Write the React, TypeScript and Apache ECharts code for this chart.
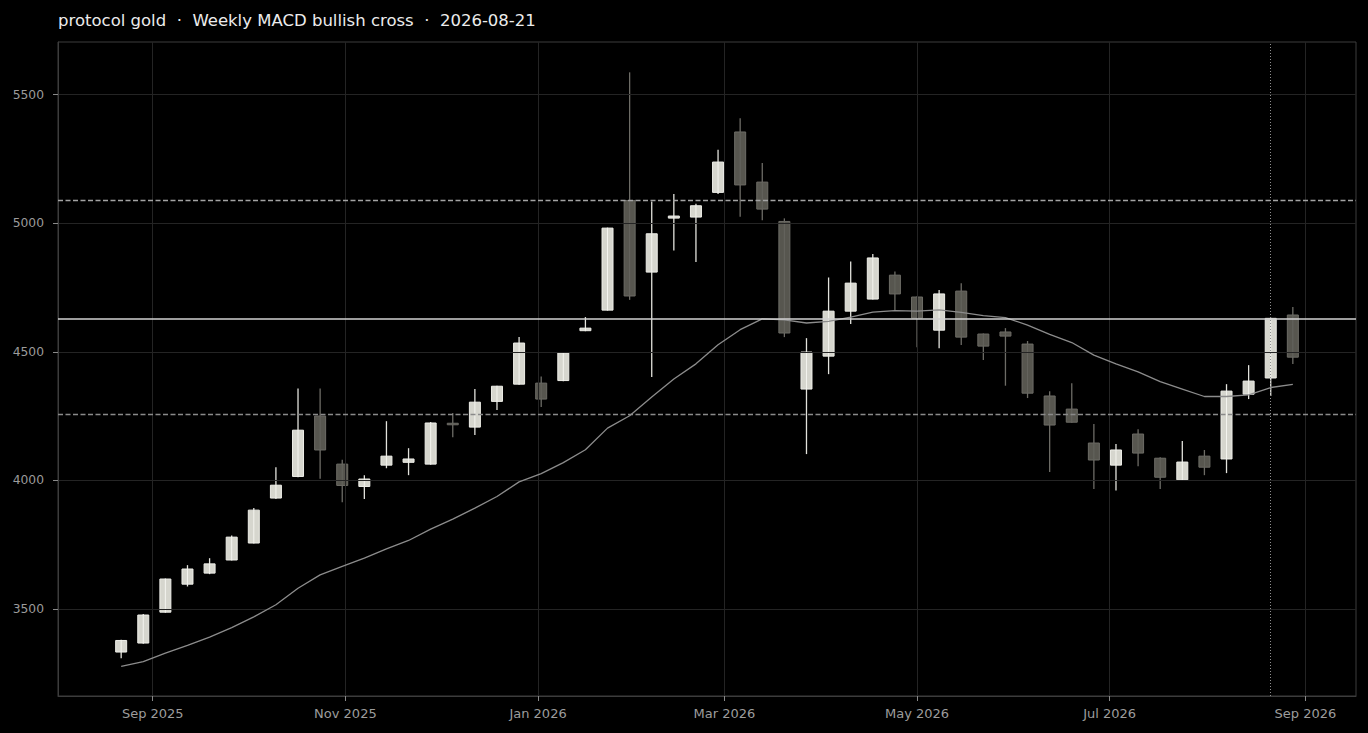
import React, { useEffect, useRef } from "react";
import * as echarts from "echarts";

const TITLE = "protocol gold  ·  Weekly MACD bullish cross  ·  2026-08-21";

const DATES = [
  "2025-08-22", "2025-08-29", "2025-09-05", "2025-09-12", "2025-09-19", "2025-09-26",
  "2025-10-03", "2025-10-10", "2025-10-17", "2025-10-24", "2025-10-31", "2025-11-07",
  "2025-11-14", "2025-11-21", "2025-11-28", "2025-12-05", "2025-12-12", "2025-12-19",
  "2025-12-26", "2026-01-02", "2026-01-09", "2026-01-16", "2026-01-23", "2026-01-30",
  "2026-02-06", "2026-02-13", "2026-02-20", "2026-02-27", "2026-03-06", "2026-03-13",
  "2026-03-20", "2026-03-27", "2026-04-03", "2026-04-10", "2026-04-17", "2026-04-24",
  "2026-05-01", "2026-05-08", "2026-05-15", "2026-05-22", "2026-05-29", "2026-06-05",
  "2026-06-12", "2026-06-19", "2026-06-26", "2026-07-03", "2026-07-10", "2026-07-17",
  "2026-07-24", "2026-07-31", "2026-08-07", "2026-08-14", "2026-08-21", "2026-08-28",
];

const OPEN = [
  3332, 3367, 3487, 3596, 3639, 3690, 3756, 3931, 4015, 4250, 4063, 3976,
  4059, 4070, 4063, 4222, 4207, 4307, 4374, 4378, 4388, 4582, 4662, 5088,
  4810, 5020, 5024, 5120, 5355, 5160, 5007, 4355, 4483, 4658, 4705, 4798,
  4713, 4584, 4736, 4569, 4577, 4530, 4328, 4277, 4145, 4059, 4180, 4086,
  4002, 4094, 4083, 4335, 4398, 4643,
];

const CLOSE = [
  3377, 3476, 3616, 3655, 3675, 3779, 3884, 3981, 4195, 4118, 3980, 4005,
  4094, 4083, 4223, 4216, 4304, 4366, 4534, 4316, 4495, 4592, 4981, 4717,
  4959, 5028, 5068, 5238, 5149, 5055, 4573, 4499, 4658, 4767, 4865, 4725,
  4631, 4725, 4557, 4522, 4561, 4339, 4215, 4226, 4079, 4118, 4106, 4012,
  4071, 4051, 4347, 4386, 4630, 4479,
];

const LOW = [
  3308, 3364, 3485, 3587, 3635, 3688, 3754, 3927, 4012, 4006, 3915, 3927,
  4047, 4020, 4061, 4168, 4176, 4274, 4372, 4285, 4385, 4580, 4660, 4702,
  4402, 4894, 4849, 5114, 5025, 5012, 4557, 4102, 4413, 4608, 4703, 4660,
  4518, 4514, 4526, 4468, 4368, 4320, 4032, 4224, 3966, 3960, 4055, 3966,
  4000, 4020, 4028, 4316, 4328, 4452,
];

const HIGH = [
  3380, 3480, 3618, 3670, 3697, 3785, 3892, 4051, 4357, 4357, 4080, 4020,
  4230, 4125, 4227, 4262, 4355, 4368, 4557, 4404, 4497, 4635, 4983, 5587,
  5085, 5114, 5076, 5286, 5408, 5234, 5019, 4553, 4789, 4851, 4880, 4812,
  4716, 4740, 4767, 4571, 4592, 4542, 4346, 4378, 4219, 4141, 4199, 4090,
  4153, 4118, 4374, 4448, 4632, 4674,
];

const MA = [
  3276, 3295, 3328, 3358, 3390, 3427, 3469, 3516, 3580, 3632, 3665, 3697,
  3733, 3766, 3810, 3849, 3892, 3937, 3994, 4026, 4069, 4119, 4203, 4251,
  4324, 4394, 4453, 4527, 4586, 4628, 4624, 4612, 4618, 4635, 4654, 4660,
  4658, 4663, 4653, 4641, 4633, 4604, 4568, 4536, 4487, 4453, 4422, 4384,
  4355, 4326, 4326, 4332, 4361, 4373,
];

const X_TICKS = ["2025-09-01", "2025-11-01", "2026-01-01", "2026-03-01", "2026-05-01", "2026-07-01", "2026-09-01"];
const Y_TICKS = [3500, 4000, 4500, 5000, 5500];
const X_RANGE = ["2025-08-02", "2026-09-17"];
const Y_RANGE = [3161, 5705];
const UPPER_LEVEL = 5091;
const PIVOT_LEVEL = 4630;
const LOWER_LEVEL = 4256;
const SIGNAL_DATE = "2026-08-21";
const MONTHS = ["Jan", "Feb", "Mar", "Apr", "May", "Jun", "Jul", "Aug", "Sep", "Oct", "Nov", "Dec"];

const ts = (s: string) => {
  const [y, m, d] = s.split("-").map(Number);
  return Date.UTC(y, m - 1, d);
};

const FONT = "DejaVu Sans";

export default function App() {
  const ref = useRef<HTMLDivElement>(null);

  useEffect(() => {
    if (!ref.current) return;
    const chart = echarts.init(ref.current, null, { renderer: "svg" });

    const candles = DATES.map((d, i) => [ts(d), OPEN[i], CLOSE[i], LOW[i], HIGH[i]]);
    const maData = DATES.map((d, i) => [ts(d), MA[i]]);
    const xTickValues = X_TICKS.map(ts);

    const option: any = {
      animation: false,
      backgroundColor: "#000000",
      title: {
        text: TITLE,
        left: 58,
        top: 12,
        padding: 0,
        textStyle: { color: "#ececec", fontSize: 16.5, fontWeight: "normal", fontFamily: FONT },
      },
      grid: {
        left: 58,
        right: 12,
        top: 42,
        bottom: 37,
        show: true,
        borderColor: "#3c3c3c",
        borderWidth: 1,
        backgroundColor: "transparent",
      },
      xAxis: {
        type: "value",
        z: 1.5,
        min: ts(X_RANGE[0]),
        max: ts(X_RANGE[1]),
        axisLine: { show: true, onZero: false, lineStyle: { color: "#3c3c3c", width: 1 } },
        axisTick: {
          show: true,
          length: 5,
          inside: false,
          lineStyle: { color: "#8a8a8a", width: 1 },
          customValues: xTickValues,
        },
        axisLabel: {
          customValues: xTickValues,
          color: "#9c9c9c",
          fontSize: 13,
          fontFamily: FONT,
          margin: 11,
          showMinLabel: true,
          showMaxLabel: true,
          formatter: (v: number) => {
            const dt = new Date(v);
            return MONTHS[dt.getUTCMonth()] + " " + dt.getUTCFullYear();
          },
        },
        splitLine: { show: true, lineStyle: { color: "#242424", width: 1 } },
      },
      yAxis: {
        type: "value",
        z: 1.5,
        min: Y_RANGE[0],
        max: Y_RANGE[1],
        axisLine: { show: true, onZero: false, lineStyle: { color: "#3c3c3c", width: 1 } },
        axisTick: {
          show: true,
          length: 5,
          inside: false,
          lineStyle: { color: "#8a8a8a", width: 1 },
          customValues: Y_TICKS,
        },
        axisLabel: {
          customValues: Y_TICKS,
          color: "#9c9c9c",
          fontSize: 12.3,
          fontFamily: FONT,
          margin: 14,
          showMinLabel: true,
          showMaxLabel: true,
          formatter: (v: number) => String(v),
        },
        splitLine: { show: true, lineStyle: { color: "#242424", width: 1 } },
      },
      series: [
        {
          type: "custom",
          name: "price",
          z: 1,
          clip: true,
          data: candles,
          encode: { x: 0, y: [1, 2, 3, 4] },
          renderItem: (_params: any, api: any) => {
            const t = api.value(0);
            const o = api.value(1);
            const c = api.value(2);
            const l = api.value(3);
            const h = api.value(4);
            const up = c >= o;
            const pO = api.coord([t, o]);
            const pC = api.coord([t, c]);
            const pL = api.coord([t, l]);
            const pH = api.coord([t, h]);
            const x = pO[0];
            const w = 11;
            const top = Math.min(pO[1], pC[1]);
            const bot = Math.max(pO[1], pC[1]);
            const hgt = Math.max(bot - top, 1.5);
            const fill = up ? "#d6d6ce" : "#57564f";
            const stroke = up ? "#eeeee8" : "#6d6c66";
            const wick = up ? "#e2e2dc" : "#6d6c66";
            const center = up ? "#f4f4ef" : "#65645e";
            return {
              type: "group",
              children: [
                {
                  type: "line",
                  shape: { x1: x, y1: pH[1], x2: x, y2: pL[1] },
                  style: { stroke: wick, lineWidth: 1.3 },
                },
                {
                  type: "rect",
                  shape: { x: x - w / 2, y: top, width: w, height: hgt },
                  style: { fill, stroke, lineWidth: 1 },
                },
                {
                  type: "line",
                  shape: { x1: x, y1: top, x2: x, y2: top + hgt },
                  style: { stroke: center, lineWidth: 1 },
                },
              ],
            };
          },
        },
        {
          type: "line",
          name: "ma",
          z: 3,
          data: maData,
          showSymbol: false,
          symbol: "none",
          lineStyle: { color: "#8c8c8c", width: 1.3 },
          silent: true,
          markLine: {
            silent: true,
            symbol: ["none", "none"],
            label: { show: false },
            emphasis: { disabled: true },
            data: [
              { yAxis: UPPER_LEVEL, lineStyle: { color: "#a3a3a3", type: [5, 2.5], width: 1.3 } },
              { yAxis: LOWER_LEVEL, lineStyle: { color: "#8a8a8a", type: [5, 2.5], width: 1.3 } },
              { yAxis: PIVOT_LEVEL, lineStyle: { color: "#d2d2d2", type: "solid", width: 1.5 } },
              { xAxis: ts(SIGNAL_DATE), lineStyle: { color: "#8f8f8f", type: [1, 2], width: 1 } },
            ],
          },
        },
      ],
    };

    chart.setOption(option);
    return () => chart.dispose();
  }, []);

  return (
    <div
      style={{ position: "fixed", left: 0, top: 0, width: 1368, height: 733, background: "#000000" }}
    >
      <div ref={ref} style={{ width: 1368, height: 733 }} />
    </div>
  );
}
